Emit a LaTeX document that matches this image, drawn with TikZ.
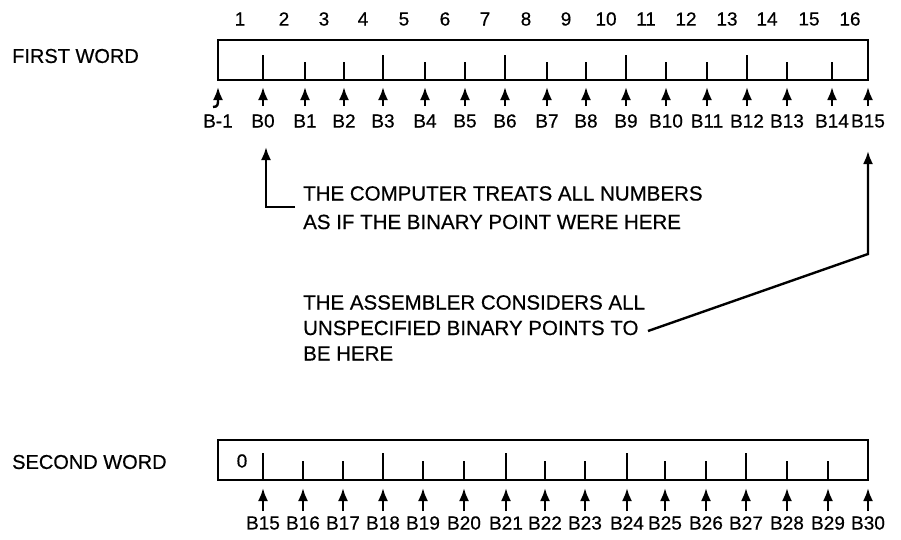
\documentclass[tikz,border=0pt]{standalone}
\usepackage{fontspec}
\setmainfont{Liberation Sans}[FakeBold=0.5]
\usetikzlibrary{arrows.meta}
\begin{document}
\begin{tikzpicture}[x=1pt,y=-1pt,
  wordbox/.style={draw,line width=2.6pt},
  tick/.style={line width=2.4pt},
  ptr/.style={line width=2.4pt,-{Latex[length=13pt,width=10pt]}},
  lbl/.style={font=\fontsize{19}{20}\selectfont,inner sep=0pt},
  hdr/.style={font=\fontsize{20}{22}\selectfont,inner sep=0pt,anchor=west},
  note/.style={font=\fontsize{20.5}{28.5}\selectfont,inner sep=0pt,anchor=north west,align=left}]
\useasboundingbox (0,0) rectangle (901,539);
% first word
\draw[wordbox] (218,40) rectangle (868,80);
\node[hdr] (fw) at (12,56) {FIRST WORD};
\foreach \x/\h in {263/55,305/62,344/62,383/55,425/62,465/62,505/55,547/62,586/62,626/55,666/62,707/62,747/55,787/62,832/62}
  \draw[tick] (\x,\h) -- (\x,80);
\foreach \x/\n in {240/1,284/2,324/3,363/4,404/5,445/6,485/7,526/8,566/9,606/10,646/11,686/12,727/13,767/14,809/15,850/16}
  \node[lbl] (n\n) at (\x,19) {\n};
\node[lbl] (aB-1) at (218,121) {B-1};
\coordinate (tB-1) at (218,87);
\draw[ptr] (213,107) .. controls (218,107) and (218,104) .. (218,100) -- (tB-1);
\foreach \x/\b in {263/B0,305/B1,344/B2,383/B3,425/B4,465/B5,505/B6,547/B7,586/B8,626/B9,666/B10,707/B11,747/B12,787/B13,832/B14,868/B15}{
  \node[lbl] (a\b) at (\x,121) {\b};
  \coordinate (t\b) at (\x,87);
  \coordinate (f\b) at (\x,106);
  \draw[ptr] (f\b) -- (t\b);
}
% callouts
\node[note] (c1) at (303,186) {THE COMPUTER TREATS ALL NUMBERS\\AS IF THE BINARY POINT WERE HERE};
\coordinate (c1k) at (266,207);
\coordinate (c1e) at (295,207);
\coordinate (c1t) at (266,147);
\draw[ptr] (c1e) -- (c1k) -- (c1t);
\node[note,font=\fontsize{20.5}{25.5}\selectfont] (c2) at (303,295) {THE ASSEMBLER CONSIDERS ALL\\UNSPECIFIED BINARY POINTS TO\\BE HERE};
\coordinate (c2s) at (648,331);
\coordinate (c2k) at (868,254);
\coordinate (c2t) at (868,151);
\draw[ptr] (c2s) -- (c2k) -- (c2t);
% second word
\draw[wordbox] (218,440) rectangle (868,480);
\node[hdr] (sw) at (12,462) {SECOND WORD};
\node[lbl] (z) at (242,461) {0};
\foreach \x/\h in {263/453,303/461,343/461,383/453,423/461,464/461,506/453,545/461,585/461,627/453,665/461,706/461,746/453,787/461,828/461}
  \draw[tick] (\x,\h) -- (\x,480);
\foreach \x/\b in {263/B15,303/B16,343/B17,383/B18,423/B19,464/B20,506/B21,545/B22,585/B23,627/B24,665/B25,706/B26,746/B27,787/B28,828/B29,868/B30}{
  \node[lbl] (s\b) at (\x,523) {\b};
  \coordinate (u\b) at (\x,488);
  \coordinate (v\b) at (\x,511);
  \draw[ptr] (v\b) -- (u\b);
}
\end{tikzpicture}
\end{document}
